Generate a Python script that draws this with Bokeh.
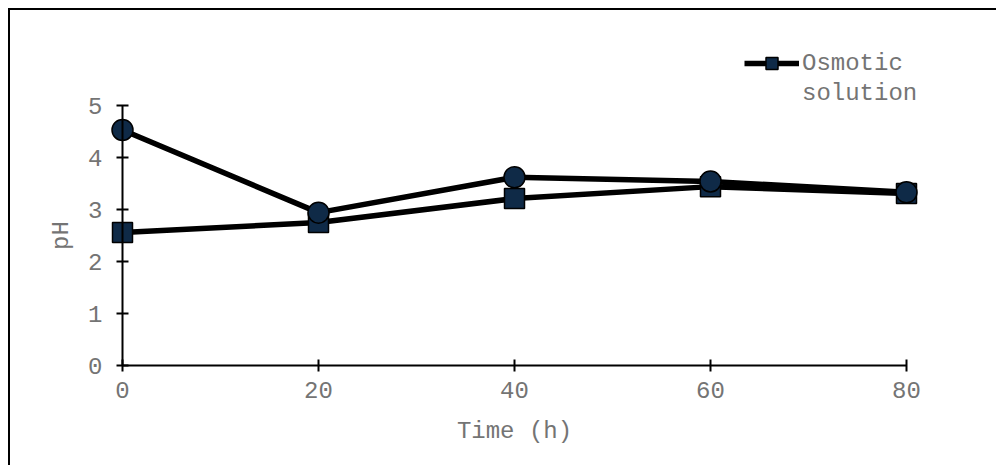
from bokeh.plotting import figure
from bokeh.models import Range1d, Legend, LegendItem, FixedTicker
from bokeh.embed import file_html
from bokeh.resources import INLINE

# Data
time_h = [0, 20, 40, 60, 80]
osmotic_solution = [2.56, 2.75, 3.21, 3.44, 3.31]
second_series = [4.53, 2.94, 3.62, 3.54, 3.33]
x_ticks = [0, 20, 40, 60, 80]
y_ticks = [0, 1, 2, 3, 4, 5]

FONT = "Liberation Mono"
TXT = "#747474"
FILL = "#0f2a47"

p = figure(width=988, height=457, output_backend="svg", toolbar_location=None,
           x_range=Range1d(-9.388, 85.51), y_range=Range1d(-1.769, 6.154),
           min_border_left=20, min_border_right=38, min_border_top=35,
           min_border_bottom=10)
p.outline_line_color = None
p.grid.visible = False
p.styles = {"border-top": "2px solid black", "border-left": "2px solid black",
            "margin-top": "8px", "margin-left": "8px"}

for ax in (p.xaxis[0], p.yaxis[0]):
    ax.axis_line_color = "black"
    ax.axis_line_width = 2
    ax.major_tick_line_color = "black"
    ax.major_tick_line_width = 2
    ax.major_tick_in = 6
    ax.major_tick_out = 6
    ax.minor_tick_line_color = None
    ax.major_label_text_font = FONT
    ax.major_label_text_font_size = "24px"
    ax.major_label_text_color = TXT
    ax.axis_label_text_font = FONT
    ax.axis_label_text_font_size = "24px"
    ax.axis_label_text_color = TXT
    ax.axis_label_text_font_style = "normal"

p.xaxis[0].ticker = FixedTicker(ticks=x_ticks)
p.xaxis[0].bounds = (0, 80)
p.xaxis[0].fixed_location = 0
p.xaxis[0].axis_label = "Time (h)"
p.xaxis[0].major_label_standoff = 10
p.xaxis[0].axis_label_standoff = 17

p.yaxis[0].ticker = FixedTicker(ticks=y_ticks)
p.yaxis[0].bounds = (0, 5)
p.yaxis[0].fixed_location = 0
p.yaxis[0].axis_label = "pH"
p.yaxis[0].major_label_standoff = 14
p.yaxis[0].axis_label_standoff = 10

l1 = p.line(time_h, osmotic_solution, line_color="black", line_width=5.5)
s1 = p.scatter(time_h, osmotic_solution, marker="square", size=20,
               fill_color=FILL, line_color="black", line_width=1.5)
l2 = p.line(time_h, second_series, line_color="black", line_width=5.5)
s2 = p.scatter(time_h, second_series, marker="circle", size=21,
               fill_color=FILL, line_color="black", line_width=1.5)
dummy = p.line([], [], line_alpha=0)

legend = Legend(items=[LegendItem(label="Osmotic", renderers=[l1, s1]),
                       LegendItem(label="solution", renderers=[dummy])],
                location=(714, 349), glyph_width=55, glyph_height=30,
                label_standoff=3, padding=0, margin=0, spacing=-11,
                border_line_color=None, background_fill_alpha=0,
                label_text_font=FONT, label_text_font_size="24px",
                label_text_color=TXT, label_height=20)
p.add_layout(legend)

open("out.html", "w").write(file_html(p, INLINE))
